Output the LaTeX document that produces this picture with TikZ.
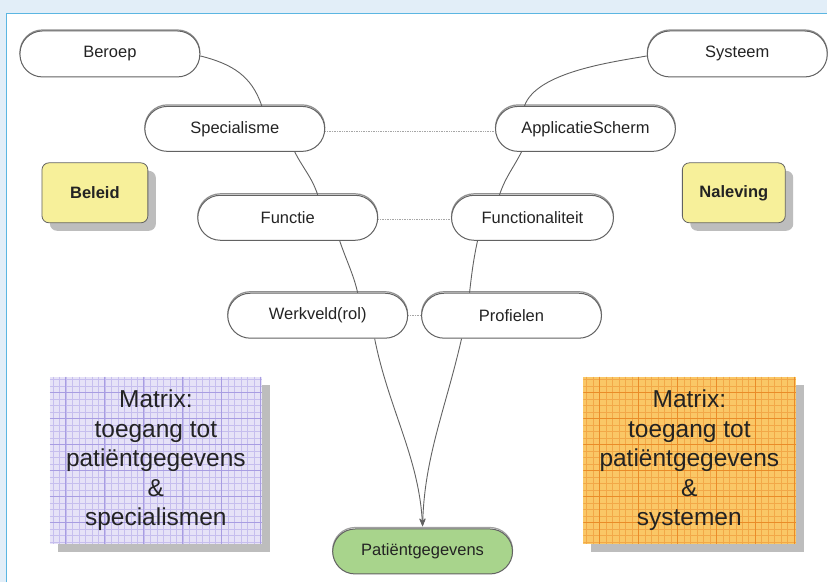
\documentclass[tikz,border=0pt]{standalone}
\usepackage{fontspec}
\setmainfont{Liberation Sans}
\usetikzlibrary{calc,arrows.meta}
\definecolor{pagebg}{HTML}{E2EEF8}
\definecolor{frameblue}{HTML}{5BB6E2}
\definecolor{pillline}{HTML}{626262}
\definecolor{txt}{HTML}{232323}
\definecolor{noteyellow}{HTML}{F7F09A}
\definecolor{shadowgray}{HTML}{BDBDBD}
\definecolor{greenfill}{HTML}{A8D48C}
\definecolor{lavbase}{HTML}{E6E2F7}
\definecolor{lavfine}{HTML}{C6BEEE}
\definecolor{lavbold}{HTML}{A89DE2}
\definecolor{orgbase}{HTML}{FAC766}
\definecolor{orgfine}{HTML}{F2A848}
\definecolor{orgbold}{HTML}{EA8C28}
\tikzset{
  pill/.style={draw=pillline, line width=1pt, fill=white, rounded corners=22.5pt,
    minimum width=180pt, minimum height=45pt, inner sep=0pt, text=txt,
    font=\fontsize{16.5}{18}\selectfont},
  pillshadow/.style={draw=pillline!70, line width=1.2pt, rounded corners=22.5pt,
    minimum width=180pt, minimum height=45pt, yshift=1.5pt},
  note/.style={draw=pillline, line width=0.8pt, fill=noteyellow, rounded corners=7pt,
    minimum width=106pt, minimum height=60pt, text=txt,
    font=\fontsize{16.5}{18}\selectfont\bfseries},
  link/.style={draw=pillline, line width=0.9pt},
  dotlink/.style={draw=gray!70, line width=0.7pt, densely dotted},
  matrixtext/.style={text=txt, align=center, font=\fontsize{24.5}{29.5}\selectfont}
}
\begin{document}
\begin{tikzpicture}[x=1pt,y=-1pt]
% page background and frame
\fill[pagebg] (0,0) rectangle (828,583);
\fill[white] (6.5,13.5) rectangle (828,583);
\draw[frameblue, line width=1.6pt] (6.5,583) -- (6.5,13.5) -- (828,13.5);
\useasboundingbox (0,0) rectangle (828,583);

% grid-paper matrices with drop shadows
\fill[shadowgray] (58,385) rectangle (270,553);
\fill[lavbase] (50,377) rectangle (262,545);
\begin{scope}
  \clip (50,377) rectangle (262,545);
  \foreach \x in {53,59.5,...,262} \draw[lavfine, line width=0.6pt] (\x,377) -- (\x,545);
  \foreach \y in {380,386.5,...,545} \draw[lavfine, line width=0.6pt] (50,\y) -- (262,\y);
  \foreach \x in {66,105,144,183,222,261} \draw[lavbold, line width=1pt] (\x,377) -- (\x,545);
  \foreach \y in {393,419,445,471,497,523} \draw[lavbold, line width=1pt] (50,\y) -- (262,\y);
\end{scope}
\node[matrixtext] (mleft) at (156,461)
  {Matrix:\\toegang tot\\patiëntgegevens\\\&\\specialismen};

\fill[shadowgray] (592,385) rectangle (805,553);
\fill[orgbase] (584,377) rectangle (797,545);
\begin{scope}
  \clip (584,377) rectangle (797,545);
  \foreach \x in {587,593.5,...,797} \draw[orgfine, line width=0.6pt] (\x,377) -- (\x,545);
  \foreach \y in {380,386.5,...,545} \draw[orgfine, line width=0.6pt] (584,\y) -- (797,\y);
  \foreach \x in {600,639,678,717,756,795} \draw[orgbold, line width=1pt] (\x,377) -- (\x,545);
  \foreach \y in {393,419,445,471,497,523} \draw[orgbold, line width=1pt] (584,\y) -- (797,\y);
\end{scope}
\node[matrixtext] (mright) at (690,461)
  {Matrix:\\toegang tot\\patiëntgegevens\\\&\\systemen};

% yellow notes
\fill[shadowgray, rounded corners=7pt] (50,171) rectangle (156,231);
\node[note] (beleid) at (95,193) {Beleid};
\fill[shadowgray, rounded corners=7pt] (691,171) rectangle (794,231);
\node[note, minimum width=103pt] (naleving) at (734.5,193) {Naleving};

% pill shadows
\foreach \p in {(110,54),(738,54),(235,129),(586,129),(288,218),(318,316),(512,316)}
  \node[pillshadow] at \p {};
\node[pillshadow, minimum width=162pt] at (533,218) {};
\node[pillshadow, draw=pillline!60] at (423,552) {};

% pills
\node[pill, minimum height=46pt] (beroep) at (110,54) {Beroep};
\node[pill, minimum height=46pt] (systeem) at (738,54) {Systeem};
\node[pill] (spec) at (235,129) {Specialisme};
\node[pill] (app) at (586,129) {ApplicatieScherm};
\node[pill] (functie) at (288,218) {Functie};
\node[pill, minimum width=162pt] (functional) at (533,218) {Functionaliteit};
\node[pill] (werkveld) at (318,316) {Werkveld(rol)};
\node[pill] (profielen) at (512,316) {Profielen};
\node[pill, fill=greenfill] (patient) at (423,552) {Patiëntgegevens};

% horizontal dotted relations
\draw[dotlink] ([yshift=-2pt]spec.east) -- ([yshift=-2pt]app.west);
\draw[dotlink] ([yshift=-2pt]functie.east) -- ([yshift=-2pt]functional.west);
\draw[dotlink] (werkveld.east) -- (profielen.west);

% left chain
\draw[link] ([yshift=-2pt]beroep.east) .. controls +(32,8) and +(-10,-30) .. ([xshift=27pt]spec.north);
\draw[link] ([xshift=60pt]spec.south) .. controls +(8,16) and +(-6,-18) .. ([xshift=30pt]functie.north);
\draw[link] ([xshift=52pt]functie.south) .. controls +(6,18) and +(-4,-18) .. ([xshift=40pt]werkveld.north);
\draw[link, -{Stealth[length=8pt,width=6pt]}] ([xshift=57pt]werkveld.south)
  .. controls +(14,70) and +(-4,-70) .. ([yshift=2pt]patient.north);

% right chain
\draw[link] ([yshift=-2pt]systeem.west) .. controls +(-34,6) and +(12,-34) .. ([xshift=-61pt]app.north);
\draw[link] ([xshift=-64pt]app.south) .. controls +(-8,16) and +(6,-18) .. ([xshift=-33pt]functional.north);
\draw[link] ([xshift=-55pt]functional.south) .. controls +(-4,18) and +(2,-18) .. ([xshift=-42pt]profielen.north);
\draw[link, -{Stealth[length=8pt,width=6pt]}] ([xshift=-50pt]profielen.south)
  .. controls +(-16,70) and +(2,-70) .. ([yshift=2pt]patient.north);
\end{tikzpicture}
\end{document}
